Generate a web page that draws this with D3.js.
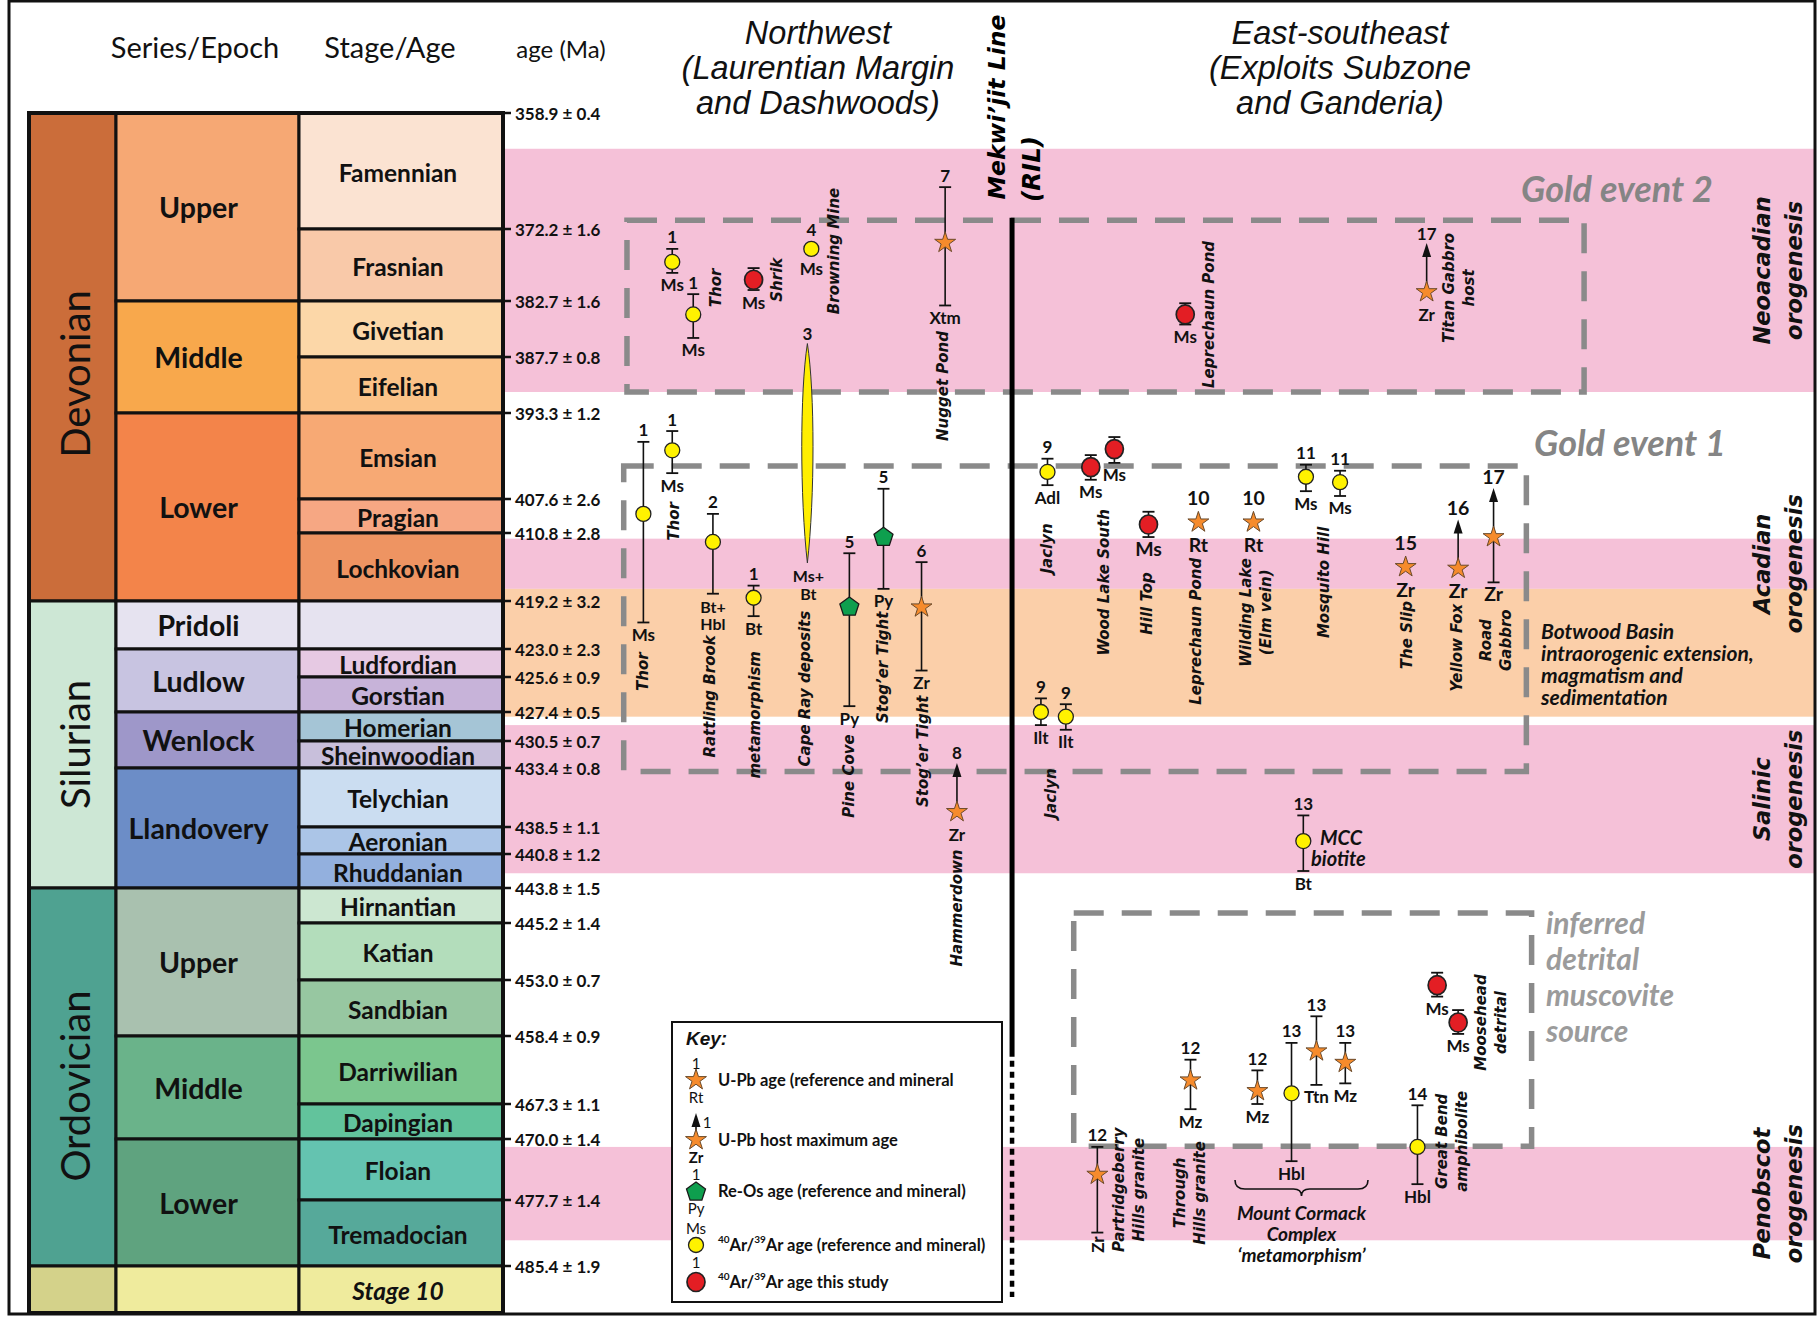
<!DOCTYPE html>
<html><head><meta charset="utf-8">
<script src="https://cdn.jsdelivr.net/npm/d3@7"></script>
<style>body{margin:0;background:#fff}svg{display:block}</style>
</head><body>
<svg id="chart" width="1818" height="1321"></svg>
<script>
// ================= DATA =================
const boundaryAges = [358.9,372.2,382.7,387.7,393.3,407.6,410.8,419.2,423.0,425.6,427.4,430.5,433.4,438.5,440.8,443.8,445.2,453.0,458.4,467.3,470.0,477.7,485.4,489.5];
const tickErrors = ["0.4","1.6","1.6","0.8","1.2","2.6","2.8","3.2","2.3","0.9","0.5","0.7","0.8","1.1","1.2","1.5","1.4","0.7","0.9","1.1","1.4","1.4","1.9"];
const stageNames = ["Famennian","Frasnian","Givetian","Eifelian","Emsian","Pragian","Lochkovian","","Ludfordian","Gorstian","Homerian","Sheinwoodian","Telychian","Aeronian","Rhuddanian","Hirnantian","Katian","Sandbian","Darriwilian","Dapingian","Floian","Tremadocian","Stage 10"];
const periods = [
  {key:"Devonian", name:"Devonian", top:358.9, base:419.2},
  {key:"Silurian", name:"Silurian", top:419.2, base:443.8},
  {key:"Ordovician", name:"Ordovician", top:443.8, base:485.4},
  {key:"Cambrian", name:"", top:485.4, base:489.5}
];
const epochs = [
  {key:"UD", name:"Upper", top:358.9, base:382.7},
  {key:"MD", name:"Middle", top:382.7, base:393.3},
  {key:"LD", name:"Lower", top:393.3, base:419.2},
  {key:"Pridoli", name:"Pridoli", top:419.2, base:423.0},
  {key:"Ludlow", name:"Ludlow", top:423.0, base:427.4},
  {key:"Wenlock", name:"Wenlock", top:427.4, base:433.4},
  {key:"Llandovery", name:"Llandovery", top:433.4, base:443.8},
  {key:"UO", name:"Upper", top:443.8, base:458.4},
  {key:"MO", name:"Middle", top:458.4, base:470.0},
  {key:"LO", name:"Lower", top:470.0, base:485.4},
  {key:"Furongian", name:"", top:485.4, base:489.5}
];
const bands = [
  {kind:"pink",   top:363.0, base:391.2, label:["Neoacadian","orogenesis"]},
  {kind:"pink",   top:411.5, base:417.7, label:["Acadian","orogenesis"]},
  {kind:"orange", top:417.7, base:427.9, label:null},
  {kind:"pink",   top:428.8, base:442.5, label:["Salinic","orogenesis"]},
  {kind:"pink",   top:471.0, base:482.4, label:["Penobscot","orogenesis"]}
];
const windows = [
  {name:"Gold event 2", left:9.45, right:82.4, top:371.2, base:391.2},
  {name:"Gold event 1", left:9.2,  right:78.0, top:402.1, base:433.7},
  {name:"inferred detrital muscovite source", left:43.5, right:78.4, top:444.8, base:470.9}
];
// sym: ar = 40Ar/39Ar (reference), new = 40Ar/39Ar this study, upb = U-Pb, host = U-Pb host maximum age, reos = Re-Os
const samples = [
  {ref:"1", sym:"ar", min:"Ms", pos:12.9, age:377.0, lo:375.1, hi:378.6},
  {ref:"1", sym:"ar", min:"Ms", pos:14.5, age:383.9, lo:381.7, hi:386.0},
  {ref:"",  sym:"new", min:"Ms", pos:19.1, age:379.6, lo:377.9, hi:381.1},
  {ref:"4", sym:"ar", min:"Ms", pos:23.5, age:375.1},
  {ref:"7", sym:"upb", min:"Xtm", pos:33.7, age:374.2, lo:367.4, hi:383.1},
  {ref:"1", sym:"ar", min:"Ms", pos:10.7, age:409.0, lo:398.1, hi:420.9},
  {ref:"1", sym:"ar", min:"Ms", pos:12.9, age:399.5, lo:396.3, hi:403.3},
  {ref:"2", sym:"ar", min:"Bt+|Hbl", pos:16.0, age:411.9, lo:409.0, hi:418.3},
  {ref:"1", sym:"ar", min:"Bt", pos:19.1, age:418.8, lo:417.3, hi:420.4},
  {ref:"5", sym:"reos", min:"Py", pos:26.4, age:419.6, lo:413.3, hi:427.1},
  {ref:"5", sym:"reos", min:"Py", pos:29.0, age:411.2, lo:405.9, hi:417.7},
  {ref:"6", sym:"upb", min:"Zr", pos:31.9, age:419.7, lo:414.4, hi:425.0},
  {ref:"8", sym:"host", min:"Zr", pos:34.6, age:437.2},
  {ref:"9", sym:"ar", min:"Adl", pos:41.5, age:403.1, lo:400.9, hi:405.3},
  {ref:"",  sym:"new", min:"Ms", pos:44.8, age:402.3, lo:400.3, hi:404.4},
  {ref:"",  sym:"new", min:"Ms", pos:46.6, age:399.3, lo:397.3, hi:401.6},
  {ref:"",  sym:"new", min:"Ms", pos:49.2, age:410.0, lo:408.8, hi:411.3},
  {ref:"10", sym:"upb", min:"Rt", pos:53.0, age:409.8},
  {ref:"10", sym:"upb", min:"Rt", pos:57.2, age:409.8},
  {ref:"11", sym:"ar", min:"Ms", pos:61.2, age:403.9, lo:401.9, hi:406.3},
  {ref:"11", sym:"ar", min:"Ms", pos:63.8, age:404.8, lo:402.9, hi:407.1},
  {ref:"15", sym:"upb", min:"Zr", pos:68.8, age:415.0},
  {ref:"16", sym:"host", min:"Zr", pos:72.8, age:415.2},
  {ref:"17", sym:"host", min:"Zr", pos:75.5, age:411.3, hi:416.9},
  {ref:"9", sym:"ar", min:"Ilt", pos:41.0, age:427.4, lo:426.7, hi:428.8},
  {ref:"9", sym:"ar", min:"Ilt", pos:42.9, age:427.9, lo:427.0, hi:429.3},
  {ref:"13", sym:"ar", min:"Bt", pos:61.0, age:439.7, lo:437.5, hi:442.3},
  {ref:"",  sym:"new", min:"Ms", pos:52.0, age:383.9, lo:382.9, hi:384.8},
  {ref:"17", sym:"host", min:"Zr", pos:70.4, age:381.4},
  {ref:"12", sym:"upb", min:"Zr", pos:45.3, age:474.5, lo:471.0, hi:481.5, rotMin:true},
  {ref:"12", sym:"upb", min:"Mz", pos:52.4, age:464.2, lo:461.5, hi:467.7},
  {ref:"12", sym:"upb", min:"Mz", pos:57.5, age:465.6, lo:462.9, hi:467.3},
  {ref:"13", sym:"ar", min:"Hbl", pos:60.1, age:465.9, lo:459.3, hi:472.8},
  {ref:"13", sym:"upb", min:"Ttn", pos:62.0, age:460.4, lo:456.5, hi:464.8},
  {ref:"13", sym:"upb", min:"Mz", pos:64.2, age:461.9, lo:459.3, hi:464.6},
  {ref:"14", sym:"ar", min:"Hbl", pos:69.7, age:471.0, lo:467.4, hi:475.7},
  {ref:"",  sym:"new", min:"Ms", pos:71.2, age:453.5, lo:452.0, hi:454.6},
  {ref:"",  sym:"new", min:"Ms", pos:72.8, age:457.1, lo:455.9, hi:458.2}
];
const capeRay = {ref:"3", min:"Ms+|Bt", pos:23.2, lo:386.5, hi:414.5};
const siteLabels = [
  {lines:["Thor"], pos:16.2, age:380.8},
  {lines:["Shrik"], pos:20.9, age:379.6},
  {lines:["Browning Mine"], pos:25.2, age:375.4},
  {lines:["Nugget Pond"], pos:33.5, age:390.6},
  {lines:["Thor"], pos:10.7, age:425.1},
  {lines:["Thor"], pos:13.0, age:409.7},
  {lines:["Rattling Brook"], pos:15.8, age:426.6},
  {lines:["metamorphism"], pos:19.2, age:427.7},
  {lines:["Cape Ray deposits"], pos:23.0, age:426.2},
  {lines:["Pine Cove"], pos:26.4, age:434.1},
  {lines:["Stog’er Tight"], pos:29.0, age:424.7},
  {lines:["Stog’er Tight"], pos:32.0, age:431.6},
  {lines:["Hammerdown"], pos:34.6, age:444.6},
  {lines:["Jaclyn"], pos:41.5, age:412.7},
  {lines:["Jaclyn"], pos:41.8, age:435.6},
  {lines:["Wood Lake South"], pos:45.8, age:416.9},
  {lines:["Hill Top"], pos:49.1, age:419.4},
  {lines:["Leprechaun Pond"], pos:52.8, age:421.6},
  {lines:["Wilding Lake","(Elm vein)"], pos:57.4, age:420.1},
  {lines:["Mosquito Hill"], pos:62.6, age:416.9},
  {lines:["The Slip"], pos:68.9, age:421.9},
  {lines:["Yellow Fox"], pos:72.7, age:422.9},
  {lines:["Road","Gabbro"], pos:75.7, age:422.3},
  {lines:["Leprechaun Pond"], pos:53.8, age:383.9},
  {lines:["Titan Gabbro","host"], pos:72.9, age:380.8},
  {lines:["Partridgeberry","Hills granite"], pos:47.7, age:476.4},
  {lines:["Through","Hills granite"], pos:52.4, age:476.8},
  {lines:["Great Bend","amphibolite"], pos:72.3, age:470.3},
  {lines:["Moosehead","detrital"], pos:75.3, age:457.1}
];
const legendItems = [
  {sym:"upb",  text:[["U-Pb age (reference and mineral",""]], above:"1", below:"Rt"},
  {sym:"host", text:[["U-Pb host maximum age",""]], side:"1", below:"Zr"},
  {sym:"reos", text:[["Re-Os age (reference and mineral)",""]], above:"1", below:"Py"},
  {sym:"ar",   text:[["","40"],["Ar/",""],["","39"],["Ar age (reference and mineral)",""]], above:"Ms", below:"1"},
  {sym:"new",  text:[["","40"],["Ar/",""],["","39"],["Ar age this study",""]]}
];
const mekwijit = {pos:38.8, solidTop:370.9, solidBase:461.1, dottedBase:488.1};

// ================= LAYOUT / STYLE =================
const ageRangePx = [113,229,301,357,413,499,533,601,649,677,712,741,768,827,854,888,923,980,1036,1104,1139,1200,1266,1313];
const colX = [29,116,299,503];
const periodLabelShift = {Devonian:17, Silurian:0, Ordovician:9, Cambrian:0};
const largeLabelSamples = new Set([16,17,18,21,22,23]);   // sample indices drawn with larger ref/mineral text
const fCal = "Lato, 'Open Sans', sans-serif";
const fVer = "'DejaVu Sans', Verdana, sans-serif";
const fAri = "'Liberation Sans', Arial, sans-serif";
const periodColors = {Devonian:"#CB6D3A", Silurian:"#CDE7D5", Ordovician:"#4FA291", Cambrian:"#D4D28A"};
const epochColors = {UD:"#F6A874", MD:"#F8A84C", LD:"#F3844A", Pridoli:"#E6E3F0", Ludlow:"#C8C4E1", Wenlock:"#9E97C9", Llandovery:"#6C8DC7", UO:"#A9C1AF", MO:"#6AB38A", LO:"#5FA37F", Furongian:"#EFEB9D"};
const stageColors = ["#FBE3D2","#F9C9A9","#FCD7A8","#FBC388","#F7A974","#F6A783","#EE9462","#E6E3F0","#E6C9E3","#C7B3D9","#A5C5D6","#C8BFDB","#CBDDF1","#ABC5E7","#93B0DE","#CCE7D1","#B3DDBB","#97C7A1","#7BC68E","#62C39C","#64C3B0","#56A99A","#EFEB9D"];
const bandColors = {pink:"#F5C1D8", orange:"#FBCFA9"};
const symColors = {ar:"#FFF200", new:"#E31E24", upb:"#F68B2C", reos:"#0E9F4E"};

const svg = d3.select("#chart");
const y = d3.scaleLinear().domain(boundaryAges).range(ageRangePx);
const x = d3.scaleLinear().domain([0,100]).range([503,1815]);

svg.append("rect").attr("width",1818).attr("height",1321).attr("fill","#fff");

// ---- bands ----
const gB = svg.append("g");
gB.selectAll("rect").data(bands).join("rect")
  .attr("x", x(0)).attr("width", x(100)-x(0))
  .attr("y", d=>y(d.top)).attr("height", d=>y(d.base)-y(d.top))
  .attr("fill", d=>bandColors[d.kind]);
bands.filter(d=>d.label).forEach(d=>{
  const cy=(y(d.top)+y(d.base))/2;
  const t=gB.append("text").attr("transform",`translate(1778,${cy}) rotate(-90)`)
    .attr("text-anchor","middle").attr("font-family",fVer).attr("font-weight","bold").attr("font-style","italic")
    .attr("font-size",22.5).attr("fill","#111");
  d.label.forEach((l,i)=>t.append("tspan").attr("x",0).attr("y",(i-0.5)*32).attr("dominant-baseline","central").text(l));
});

// ---- timescale table ----
const gT = svg.append("g");
function cell(x0,x1,top,base,fill){
  gT.append("rect").attr("x",x0).attr("y",y(top)).attr("width",x1-x0).attr("height",y(base)-y(top))
    .attr("fill",fill).attr("stroke","#111").attr("stroke-width",3);
}
periods.forEach(p=>{
  cell(colX[0],colX[1],p.top,p.base,periodColors[p.key]);
  if(p.name) gT.append("text").attr("transform",`translate(${(colX[0]+colX[1])/2+2},${(y(p.top)+y(p.base))/2+periodLabelShift[p.key]}) rotate(-90)`)
    .attr("text-anchor","middle").attr("dominant-baseline","central").attr("font-family",fCal).attr("font-size",40).attr("fill","#111").text(p.name);
});
epochs.forEach(e=>{
  cell(colX[1],colX[2],e.top,e.base,epochColors[e.key]);
  if(e.name) gT.append("text").attr("x",(colX[1]+colX[2])/2-9).attr("y",(y(e.top)+y(e.base))/2)
    .attr("text-anchor","middle").attr("dominant-baseline","central").attr("font-family",fCal).attr("font-weight","bold").attr("font-size",28.5).attr("fill","#111").text(e.name);
});
stageNames.forEach((s,i)=>{
  cell(colX[2],colX[3],boundaryAges[i],boundaryAges[i+1],stageColors[i]);
  if(s) gT.append("text").attr("x",(colX[2]+colX[3])/2-3).attr("y",(y(boundaryAges[i])+y(boundaryAges[i+1]))/2+1)
    .attr("text-anchor","middle").attr("dominant-baseline","central").attr("font-family",fCal).attr("font-weight","bold")
    .attr("font-style", s==="Stage 10"?"italic":"normal").attr("font-size",24.5).attr("fill","#111").text(s);
});
gT.append("rect").attr("x",colX[0]).attr("y",y(boundaryAges[0])).attr("width",colX[3]-colX[0]).attr("height",y(489.5)-y(358.9))
  .attr("fill","none").attr("stroke","#111").attr("stroke-width",4);
const tickAges = boundaryAges.slice(0,23);
gT.selectAll("line.tick").data(tickAges).join("line").attr("class","tick")
  .attr("x1",colX[3]).attr("x2",colX[3]+8).attr("y1",d=>y(d)).attr("y2",d=>y(d)).attr("stroke","#111").attr("stroke-width",2.5);
gT.selectAll("text.tl").data(tickAges).join("text").attr("class","tl")
  .attr("x",colX[3]+12).attr("y",d=>y(d)).attr("dominant-baseline","central")
  .attr("font-family",fCal).attr("font-weight","bold").attr("font-size",17).attr("fill","#111")
  .text((d,i)=>`${d.toFixed(1)} ± ${tickErrors[i]}`);

// headings
svg.append("text").attr("x",195).attr("y",46).attr("text-anchor","middle").attr("dominant-baseline","central").attr("font-family",fCal).attr("font-size",29).attr("fill","#111").text("Series/Epoch");
svg.append("text").attr("x",390).attr("y",46).attr("text-anchor","middle").attr("dominant-baseline","central").attr("font-family",fCal).attr("font-size",29).attr("fill","#111").text("Stage/Age");
svg.append("text").attr("x",561).attr("y",48).attr("text-anchor","middle").attr("dominant-baseline","central").attr("font-family",fCal).attr("font-size",24).attr("fill","#111").text("age (Ma)");
function title(cx, lines){
  const t=svg.append("text").attr("text-anchor","middle").attr("font-family",fAri).attr("font-style","italic").attr("font-size",32.5).attr("fill","#111");
  lines.forEach((l,i)=>t.append("tspan").attr("x",cx).attr("y",33+i*35).attr("dominant-baseline","central").text(l));
}
title(818,["Northwest","(Laurentian Margin","and Dashwoods)"]);
title(1340,["East-southeast","(Exploits Subzone","and Ganderia)"]);

// ---- dashed windows ----
const gW = svg.append("g");
gW.selectAll("rect").data(windows).join("rect")
  .attr("x",d=>x(d.left)).attr("y",d=>y(d.top)).attr("width",d=>x(d.right)-x(d.left)).attr("height",d=>y(d.base)-y(d.top))
  .attr("fill","none").attr("stroke","#8a8a8a").attr("stroke-width",5.5).attr("stroke-dasharray","30 18");
gW.append("text").attr("x",1521).attr("y",188).attr("dominant-baseline","central").attr("font-family",fCal).attr("font-weight","bold").attr("font-style","italic").attr("font-size",36).attr("fill","#858585").text("Gold event 2");
gW.append("text").attr("x",1534).attr("y",442).attr("dominant-baseline","central").attr("font-family",fCal).attr("font-weight","bold").attr("font-style","italic").attr("font-size",36).attr("fill","#858585").text("Gold event 1");
const inf = gW.append("text").attr("font-family",fCal).attr("font-weight","bold").attr("font-style","italic").attr("font-size",30).attr("fill","#9b9b9b");
["inferred","detrital","muscovite","source"].forEach((l,i)=>inf.append("tspan").attr("x",1546).attr("y",922+i*36).attr("dominant-baseline","central").text(l));
const bot = gW.append("text").attr("font-family",fCal).attr("font-weight","bold").attr("font-style","italic").attr("font-size",21).attr("fill","#111");
["Botwood Basin","intraorogenic extension,","magmatism and","sedimentation"].forEach((l,i)=>bot.append("tspan").attr("x",1541).attr("y",630+i*22).attr("dominant-baseline","central").text(l));

// ---- Mekwi'jit line ----
svg.append("line").attr("x1",x(mekwijit.pos)).attr("x2",x(mekwijit.pos)).attr("y1",y(mekwijit.solidTop)).attr("y2",y(mekwijit.solidBase)).attr("stroke","#000").attr("stroke-width",5);
svg.append("line").attr("x1",x(mekwijit.pos)).attr("x2",x(mekwijit.pos)).attr("y1",y(mekwijit.solidBase)+4).attr("y2",y(mekwijit.dottedBase)).attr("stroke","#000").attr("stroke-width",4.5).attr("stroke-dasharray","6 5");
svg.append("text").attr("transform","translate(997,107) rotate(-90)").attr("text-anchor","middle").attr("dominant-baseline","central").attr("font-family",fVer).attr("font-weight","bold").attr("font-style","italic").attr("font-size",23.5).attr("fill","#000").text("Mekwi’jit Line");
svg.append("text").attr("transform","translate(1031,169) rotate(-90)").attr("text-anchor","middle").attr("dominant-baseline","central").attr("font-family",fVer).attr("font-weight","bold").attr("font-style","italic").attr("font-size",24.5).attr("fill","#000").text("(RIL)");

// ---- symbols ----
const R = {ar:7.5, new:9.5, upb:10.5, host:10.5, reos:9.5};
function drawSymbol(g, sym, cx, cy, arrowLen){
  if(sym==="ar"){
    g.append("circle").attr("cx",cx).attr("cy",cy).attr("r",7.5).attr("fill",symColors.ar).attr("stroke","#222").attr("stroke-width",1.3);
  } else if(sym==="new"){
    g.append("ellipse").attr("cx",cx).attr("cy",cy).attr("rx",9).attr("ry",9.5).attr("fill",symColors.new).attr("stroke","#222").attr("stroke-width",1.7);
  } else if(sym==="upb"||sym==="host"){
    if(sym==="host"){
      const L = arrowLen||49;
      g.append("line").attr("x1",cx).attr("x2",cx).attr("y1",cy).attr("y2",cy-L+10).attr("stroke","#111").attr("stroke-width",1.6);
      g.append("path").attr("d",`M${cx},${cy-L}L${cx-4.5},${cy-L+14}L${cx+4.5},${cy-L+14}Z`).attr("fill","#111");
    }
    g.append("path").attr("transform",`translate(${cx},${cy})`).attr("d",d3.symbol(d3.symbolStar,136)())
      .attr("fill",symColors.upb).attr("stroke","#6b4a2a").attr("stroke-width",1);
  } else if(sym==="reos"){
    const pts=d3.range(5).map(i=>{const a=-Math.PI/2+i*2*Math.PI/5;return [cx+10*Math.cos(a),cy+1+10*Math.sin(a)];});
    g.append("path").attr("d",d3.line()(pts)+"Z").attr("fill",symColors.reos).attr("stroke","#1a1a1a").attr("stroke-width",1.3);
  }
}
function errBar(g,cx,y1,y2,capTop,capBot){
  g.append("line").attr("x1",cx).attr("x2",cx).attr("y1",y1).attr("y2",y2).attr("stroke","#111").attr("stroke-width",1.6);
  if(capTop) g.append("line").attr("x1",cx-6).attr("x2",cx+6).attr("y1",y1).attr("y2",y1).attr("stroke","#111").attr("stroke-width",1.8);
  if(capBot) g.append("line").attr("x1",cx-6).attr("x2",cx+6).attr("y1",y2).attr("y2",y2).attr("stroke","#111").attr("stroke-width",1.8);
}
function smallText(g,txt,cx,cy,opts={}){
  const t=g.append("text").attr("x",cx).attr("y",cy).attr("text-anchor","middle").attr("dominant-baseline","central")
    .attr("font-family",fCal).attr("font-weight",opts.weight||"bold").attr("font-size",opts.size||17).attr("fill","#111");
  if(opts.rotate) t.attr("transform",`rotate(-90,${cx},${cy})`);
  const parts=txt.split("|");
  if(parts.length===1) t.text(txt);
  else parts.forEach((p,i)=>t.append("tspan").attr("x",cx).attr("y",cy+i*(opts.lh||17)).text(p));
  return t;
}

const gS = svg.append("g");
{
  const cx=x(capeRay.pos), t=y(capeRay.lo), b=y(capeRay.hi), h=b-t;
  const p=d3.path(); p.moveTo(cx,t);
  p.bezierCurveTo(cx+7.5,t+h*0.22,cx+7.5,b-h*0.3,cx,b);
  p.bezierCurveTo(cx-7.5,b-h*0.3,cx-7.5,t+h*0.22,cx,t);
  gS.append("path").attr("d",p.toString()).attr("fill","#FFEE00").attr("stroke","#333").attr("stroke-width",1);
  smallText(gS,capeRay.ref,cx,t-10);
  smallText(gS,capeRay.min,cx+1,b+12,{size:16,lh:18});
}
samples.forEach((s,i)=>{
  const cx=x(s.pos), cy=y(s.age), r=R[s.sym];
  const big = largeLabelSamples.has(i);
  const fs = big?19.5:17, gapTop = big?14:12, gapBot = big?11.5:12;
  if(s.lo!=null||s.hi!=null){
    const y1 = s.lo!=null? y(s.lo): cy, y2 = s.hi!=null? y(s.hi): cy;
    errBar(gS,cx,y1,y2,s.lo!=null,s.hi!=null);
  }
  drawSymbol(gS,s.sym,cx,cy,49);
  let topY = s.sym==="host"? cy-49 : Math.min(s.lo!=null?y(s.lo):cy-r, cy-r);
  let botY = Math.max(s.hi!=null?y(s.hi):cy+r, cy+r);
  if(s.ref) smallText(gS,s.ref,cx,topY-(s.sym==="host"?gapTop-2:gapTop),{size:fs});
  if(s.min) smallText(gS,s.min,cx,botY+gapBot,{rotate:!!s.rotMin, size: s.min.includes("|")?16:fs});
});

// site labels
const gL = svg.append("g");
siteLabels.forEach(d=>{
  const t=gL.append("text").attr("transform",`translate(${x(d.pos)},${y(d.age)}) rotate(-90)`)
    .attr("text-anchor","middle").attr("font-family",fVer).attr("font-weight","bold").attr("font-style","italic").attr("font-size",15).attr("fill","#111");
  const n=d.lines.length;
  d.lines.forEach((l,i)=>t.append("tspan").attr("x",0).attr("y",(i-(n-1)/2)*20).attr("dominant-baseline","central").text(l));
});
const mcc=gL.append("text").attr("font-family",fCal).attr("font-weight","bold").attr("font-style","italic").attr("font-size",20).attr("fill","#111");
mcc.append("tspan").attr("x",1320).attr("y",837).attr("dominant-baseline","central").text("MCC");
mcc.append("tspan").attr("x",1311).attr("y",858).attr("dominant-baseline","central").text("biotite");
{
  const bx0=1235,bx1=1368,by=1180,mid=(bx0+bx1)/2;
  const p=`M${bx0},${by} Q${bx0},${by+9} ${bx0+10},${by+9} L${mid-8},${by+9} Q${mid},${by+9} ${mid},${by+16} Q${mid},${by+9} ${mid+8},${by+9} L${bx1-10},${by+9} Q${bx1},${by+9} ${bx1},${by}`;
  gL.append("path").attr("d",p).attr("fill","none").attr("stroke","#111").attr("stroke-width",1.6);
  const mc=gL.append("text").attr("text-anchor","middle").attr("font-family",fCal).attr("font-weight","bold").attr("font-style","italic").attr("font-size",19).attr("fill","#111");
  ["Mount Cormack","Complex","‘metamorphism’"].forEach((l,i)=>mc.append("tspan").attr("x",mid).attr("y",1212+i*21).attr("dominant-baseline","central").text(l));
}

// ---- legend ----
const gK = svg.append("g");
gK.append("rect").attr("x",672).attr("y",1022).attr("width",330).attr("height",280).attr("fill","#fff").attr("stroke","#111").attr("stroke-width",2);
gK.append("text").attr("x",686).attr("y",1038).attr("dominant-baseline","central").attr("font-family",fAri).attr("font-weight","bold").attr("font-style","italic").attr("font-size",19).attr("fill","#111").text("Key:");
const legRows=[1080,1140,1191,1245,1282];
legendItems.forEach((it,i)=>{
  const cy=legRows[i], cx=696;
  drawSymbol(gK,it.sym,cx,cy,27);
  if(it.above) smallText(gK,it.above,cx,cy-17,{weight:"normal",size:15});
  if(it.below) smallText(gK,it.below,cx,cy+17,{weight:it.sym==="host"?"bold":"normal",size:15});
  if(it.side) smallText(gK,it.side,cx+11,cy-18,{weight:"normal",size:15});
  const t=gK.append("text").attr("x",718).attr("y",cy).attr("dominant-baseline","central").attr("font-family",fCal).attr("font-weight","bold").attr("font-size",16.5).attr("fill","#111");
  let raised=false;
  it.text.forEach(([txt,sup])=>{
    if(sup){ t.append("tspan").attr("font-size",10).attr("dy",raised?0:-6).text(sup); raised=true; }
    else { t.append("tspan").attr("dy",raised?6:0).text(txt); raised=false; }
  });
});

// outer frame
svg.append("rect").attr("x",9).attr("y",1).attr("width",1806).attr("height",1313).attr("fill","none").attr("stroke","#111").attr("stroke-width",3);
</script>
</body></html>
